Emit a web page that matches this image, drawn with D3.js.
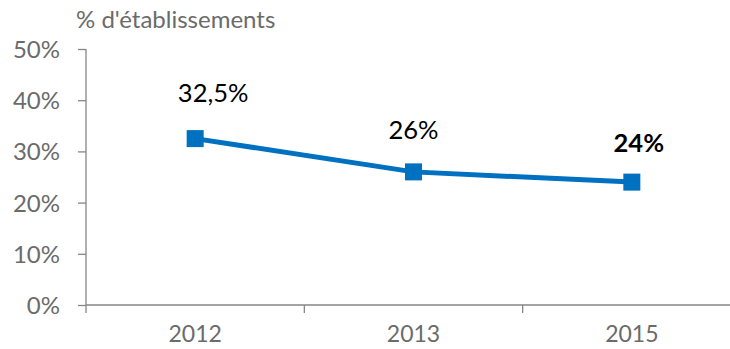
<!DOCTYPE html>
<html><head><meta charset="utf-8">
<script src="https://cdn.jsdelivr.net/npm/d3@7"></script>
<style>
html,body{margin:0;padding:0;background:#fff;}
svg{display:block;}
</style></head>
<body>
<svg id="chart" width="730" height="349"></svg>
<script>
const categories = ["2012", "2013", "2015"];
const values = [32.5, 26, 24];
const valueLabels = ["32,5%", "26%", "24%"];
const boldLabel = [false, false, true];
const yTicks = [0, 10, 20, 30, 40, 50];
const yTitle = "% d'établissements";

const FONT = "Lato, 'Open Sans', sans-serif";
const svg = d3.select("#chart");
const x = d3.scaleBand().domain(categories).range([86, 741]);
const y = d3.scaleLinear().domain([0, 50]).range([305, 49]);
const axisColor = "#868686";
const textGray = "#6b6b6b";

// y axis
const yAxis = svg.append("g").attr("transform", "translate(86,0)")
  .call(d3.axisLeft(y).tickValues(yTicks).tickFormat(d => d + "%").tickSize(8).tickPadding(18));
yAxis.select(".domain").attr("d", "M0," + y(50) + "V313").attr("stroke", axisColor).attr("stroke-width", 1.3);
yAxis.selectAll(".tick line").attr("stroke", axisColor).attr("stroke-width", 1.3);
yAxis.selectAll(".tick text").attr("fill", textGray).style("font-family", FONT).style("font-size", "24px").attr("dy", "0.35em");

// x axis
const xAxis = svg.append("g").attr("transform", "translate(0,305)")
  .call(d3.axisBottom(x).tickSize(0).tickPadding(21));
xAxis.select(".domain").attr("d", "M86,0H741").attr("stroke", axisColor).attr("stroke-width", 1.3);
xAxis.selectAll(".tick text").attr("fill", textGray).style("font-family", FONT).style("font-size", "23px");
// category boundary ticks
const bounds = categories.slice(1).map(c => x(c));
xAxis.selectAll(".bt").data(bounds).enter().append("line")
  .attr("x1", d => d).attr("x2", d => d).attr("y1", 0).attr("y2", 8)
  .attr("stroke", axisColor).attr("stroke-width", 1.3);

// title
svg.append("text").attr("x", 76).attr("y", 28).text(yTitle)
  .attr("fill", textGray).style("font-family", FONT).style("font-size", "24px");

// line
const cx = d => x(d) + x.bandwidth() / 2;
const data = categories.map((c, i) => ({c, v: values[i], label: valueLabels[i], bold: boldLabel[i]}));
svg.append("path").datum(data)
  .attr("d", d3.line().x(d => cx(d.c)).y(d => y(d.v)))
  .attr("fill", "none").attr("stroke", "#0070C0").attr("stroke-width", 5);
const ms = 17;
svg.selectAll(".mk").data(data).enter().append("rect")
  .attr("x", d => cx(d.c) - ms / 2).attr("y", d => y(d.v) - ms / 2)
  .attr("width", ms).attr("height", ms).attr("fill", "#0070C0");

// labels
const labelOffsets = [[18, -37], [0, -33], [7, -30]];
svg.selectAll(".lbl").data(data).enter().append("text")
  .attr("x", (d, i) => cx(d.c) + labelOffsets[i][0])
  .attr("y", (d, i) => y(d.v) + labelOffsets[i][1])
  .attr("text-anchor", "middle")
  .text(d => d.label)
  .attr("fill", "#000")
  .style("font-family", FONT).style("font-size", "25.5px")
  .style("font-weight", d => d.bold ? "bold" : "normal");
</script>
</body></html>
